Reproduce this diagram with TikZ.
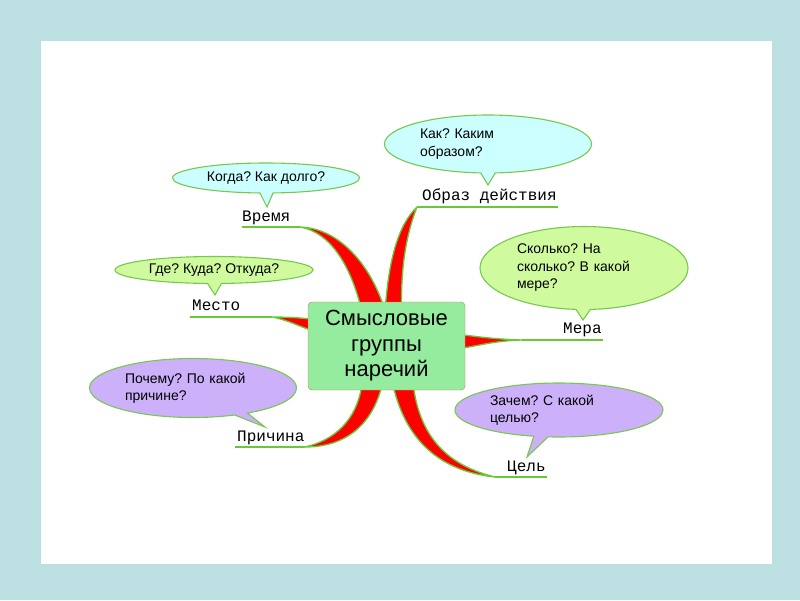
\documentclass[tikz,border=0pt]{standalone}
\usepackage{fontspec}
\newfontfamily\bubblefont{Liberation Sans}
\newfontfamily\lblfont{Liberation Mono}
\usepackage{tikz}
\usetikzlibrary{shapes.callouts,backgrounds,calc}
\frenchspacing

\definecolor{panelteal}{RGB}{188,223,226}
\definecolor{twiggreen}{RGB}{104,200,56}
\definecolor{coregreen}{RGB}{150,236,158}
\definecolor{coreedge}{RGB}{196,120,100}
\definecolor{bubbleedge}{RGB}{120,200,80}
\definecolor{skyfill}{RGB}{204,255,255}
\definecolor{limefill}{RGB}{208,250,158}
\definecolor{lilacfill}{RGB}{204,176,250}

\begin{document}
\begin{tikzpicture}[x=1pt,y=-1pt,
  core/.style={
    draw=coreedge, fill=coregreen, rounded corners=4pt,
    minimum width=157pt, minimum height=88pt, inner sep=0pt,
    align=center, font=\bubblefont\fontsize{22}{25.5}\selectfont,
  },
  bubble/.style={
    ellipse callout, draw=bubbleedge, line width=1.1pt, inner sep=0pt,
    callout pointer arc=8, align=left,
    font=\bubblefont\fontsize{14}{17.5}\selectfont,
  },
  twig/.style={fill=red, draw=twiggreen, line width=1.3pt, line join=round},
  uline/.style={draw=twiggreen, line width=1.8pt},
  lbl/.style={font=\lblfont\fontsize{16}{16}\selectfont, anchor=base west, inner sep=0pt},
  ]
  \useasboundingbox (0,0) rectangle (800,600);
  \node[core] (core) at (386.5,346) {Смысловые\\группы\\наречий};

  % ends of the branches
  \coordinate (tVremya) at (300,227);
  \coordinate (tObraz) at (417,207);
  \coordinate (tMesto) at (272,317);
  \coordinate (tMera) at (522,340);
  \coordinate (tPrichina) at (305,447);
  \coordinate (tCel) at (495,477);

  % labels and their lines
  \node[lbl] (vremya) at (242,221) {Время};
  \node[lbl] (obraz) at (422,200) {Образ действия};
  \node[lbl] (mesto) at (192,310) {Место};
  \node[lbl] (mera) at (563,333) {Мера};
  \node[lbl] (prichina) at (237,441) {Причина};
  \node[lbl] (cel) at (507,471) {Цель};
  \coordinate (uVremya) at (242,227);
  \coordinate (uObraz) at (558,207);
  \coordinate (uMesto) at (190,317);
  \coordinate (uMera) at (603,340);
  \coordinate (uPrichina) at (235,447);
  \coordinate (uCel) at (547,477);
  \draw[uline] (uVremya) -- (tVremya);
  \draw[uline] (tObraz) -- (uObraz);
  \draw[uline] (uMesto) -- (tMesto);
  \draw[uline] (tMera) -- (uMera);
  \draw[uline] (uPrichina) -- (tPrichina);
  \draw[uline] (tCel) -- (uCel);

  % questions
  \coordinate (pKogda) at (267,207);
  \coordinate (pKak) at (488,185);
  \coordinate (pGde) at (215,295);
  \coordinate (pSkolko) at (583,320);
  \coordinate (pPochemu) at (265,427);
  \coordinate (pZachem) at (527,457);
  \node[bubble, fill=skyfill, minimum width=187pt, minimum height=30pt,
    align=center, callout absolute pointer={(pKogda)}] (kogda) at (266,178)
    {Когда? Как долго?};
  \node[bubble, fill=skyfill, minimum width=207pt, minimum height=58pt,
    text width=136pt, callout absolute pointer={(pKak)}] (kak) at (488,144)
    {Как? Каким\\образом?};
  \node[bubble, fill=limefill, minimum width=198pt, minimum height=27pt,
    align=center, callout absolute pointer={(pGde)}] (gde) at (214,270)
    {Где? Куда? Откуда?};
  \node[bubble, fill=limefill, minimum width=208pt, minimum height=83pt,
    text width=134pt, callout absolute pointer={(pSkolko)}] (skolko) at (584,268)
    {Сколько? На\\сколько? В какой\\мере?};
  \node[bubble, fill=lilacfill, minimum width=207pt, minimum height=59pt,
    text width=136pt, callout absolute pointer={(pPochemu)}] (pochemu) at (193,388)
    {Почему? По какой\\причине?};
  \node[bubble, fill=lilacfill, minimum width=208pt, minimum height=54pt,
    text width=138pt, callout absolute pointer={(pZachem)}] (zachem) at (559,410)
    {Зачем? С какой\\целью?};

  \begin{pgfonlayer}{background}
    \fill[panelteal] (0,0) rectangle (800,600);
    \fill[white] (41,41) rectangle (772,564);
    % branches
    \draw[twig] (tVremya) .. controls (335,228) and (367,258) .. ($(core.north)+(-3,4)$)
      -- ($(core.north)+(-26,4)$) .. controls (350,265) and (330,232) .. (tVremya) -- cycle;
    \draw[twig] (tObraz) .. controls (398,225) and (389,260) .. ($(core.north)+(-1,4)$)
      -- ($(core.north)+(15,4)$) .. controls (401,260) and (408,230) .. (tObraz) -- cycle;
    \draw[twig] (tMesto) .. controls (290,317) and (300,318) .. ($(core.west)+(3,-27)$)
      -- ($(core.west)+(3,-16)$) .. controls (298,326) and (288,320) .. (tMesto) -- cycle;
    \draw[twig] (tMera) .. controls (490,339) and (475,336) .. ($(core.east)+(-3,-11)$)
      -- ($(core.east)+(-3,2)$) .. controls (478,346) and (492,341) .. (tMera) -- cycle;
    \draw[twig] (tPrichina) .. controls (335,440) and (356,420) .. ($(core.south)+(-25,-3)$)
      -- ($(core.south)+(-5,-3)$) .. controls (373,420) and (350,447) .. (tPrichina) -- cycle;
    \draw[twig] (tCel) .. controls (430,470) and (404,430) .. ($(core.south)+(7,-3)$)
      -- ($(core.south)+(27,-3)$) .. controls (421,440) and (450,466) .. (tCel) -- cycle;
  \end{pgfonlayer}
\end{tikzpicture}
\end{document}
